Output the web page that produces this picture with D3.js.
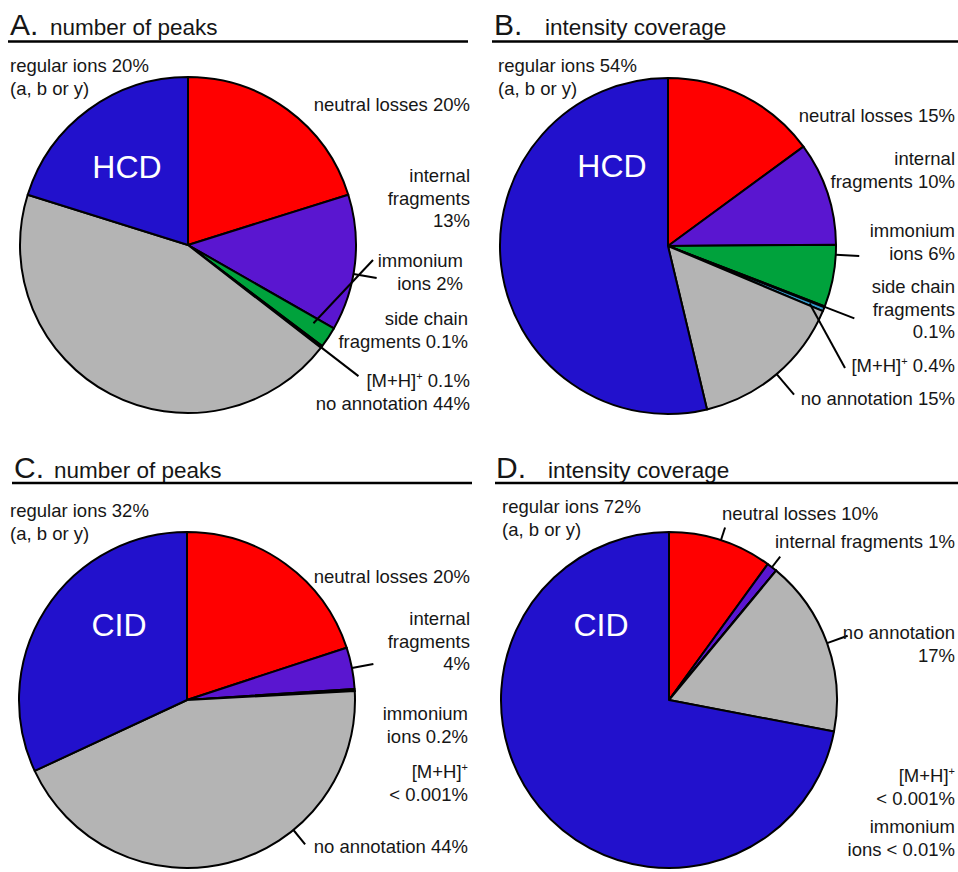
<!DOCTYPE html>
<html><head><meta charset="utf-8">
<script src="https://cdn.jsdelivr.net/npm/d3@7"></script>
<style>
body{margin:0;background:#fff}
svg{display:block}
text{font-family:"Liberation Sans",Arial,sans-serif;fill:#161616}
</style>
</head><body><svg id="chart" width="958" height="872"></svg>
<script>
// ---------- data ----------
const categories = ["neutral losses","internal fragments","immonium ions","side chain fragments","[M+H]+","no annotation","regular ions"];
const hcdPeaks     = [20, 13, 2, 0.1, 0.1, 44, 20];
const hcdIntensity = [15, 10, 6, 0.1, 0.4, 15, 54];
const cidPeaks     = [20, 4, 0.2, 0, 0.001, 44, 32];
const cidIntensity = [10, 1, 0.01, 0, 0.001, 17, 72];

const labelsA = [
  ["regular ions 20%","(a, b or y)"],["neutral losses 20%"],["internal","fragments","13%"],
  ["immonium","ions 2%"],["side chain","fragments 0.1%"],["[M+H]^+ 0.1%"],["no annotation 44%"]];
const labelsB = [
  ["regular ions 54%","(a, b or y)"],["neutral losses 15%"],["internal","fragments 10%"],
  ["immonium","ions 6%"],["side chain","fragments","0.1%"],["[M+H]^+  0.4%"],["no annotation 15%"]];
const labelsC = [
  ["regular ions 32%","(a, b or y)"],["neutral losses 20%"],["internal","fragments","4%"],
  ["immonium","ions 0.2%"],["[M+H]^+","< 0.001%"],["no annotation 44%"]];
const labelsD = [
  ["regular ions 72%","(a, b or y)"],["neutral losses 10%"],["internal fragments 1%"],
  ["no annotation","17%"],["[M+H]^+","< 0.001%"],["immonium","ions < 0.01%"]];

// ---------- styles / layout ----------
const colors = ["#ff0000","#5a16d0","#00a23c","#1f7f8f","#3399cc","#b4b4b4","#2211cc"];
const R = 168;

const panels = [
  {letter:"A.", title:"number of peaks", method:"HCD", values:hcdPeaks, labels:labelsA,
   cx:188, cy:245, letterX:10, titleX:50, baseY:35, ruleX0:8, ruleX1:468, ruleY:41.5, methodDx:-61, methodDy:-67,
   pos:[[10,72,"start"],[470,111,"end"],[470,182,"end"],[463,267,"end"],[468,325,"end"],[470,387,"end"],[470,410,"end"]],
   leaders:[{s:1,t:0.58,r0:1,r1:1.14},{s:2,t:0.3,r0:0.88,ex:185,ey:15},{s:4,t:0.5,r0:1,r1:1.28}]},
  {letter:"B.", title:"intensity coverage", method:"HCD", values:hcdIntensity, labels:labelsB,
   cx:668, cy:246, letterX:494, titleX:545, baseY:35, ruleX0:492, ruleX1:958, ruleY:41.5, methodDx:-56, methodDy:-69,
   pos:[[498,72,"start"],[955,122,"end"],[955,165,"end"],[955,237,"end"],[955,293,"end"],[955,372,"end"],[955,405,"end"]],
   leaders:[{s:2,t:0.16,r0:1,r1:1.14},{s:3,t:0.5,r0:1,r1:1.19},{s:4,t:0.5,r0:0.91,ex:177,ey:122},{s:5,t:0.5,r0:1,r1:1.16}]},
  {letter:"C.", title:"number of peaks", method:"CID", values:cidPeaks, labels:labelsC,
   cx:187, cy:700, letterX:14, titleX:54, baseY:478, ruleX0:12, ruleX1:472, ruleY:483, methodDx:-68, methodDy:-64,
   pos:[[10,517,"start"],[470,583,"end"],[470,625,"end"],[468,720,"end"],[468,778,"end"],[468,853,"end"]],
   leaders:[{s:1,t:0.5,r0:1,r1:1.13},{s:5,t:0.34,r0:1,r1:1.11}]},
  {letter:"D.", title:"intensity coverage", method:"CID", values:cidIntensity, labels:labelsD,
   cx:669, cy:700, letterX:496, titleX:548, baseY:478, ruleX0:495, ruleX1:958, ruleY:483, methodDx:-68, methodDy:-64,
   pos:[[502,513,"start"],[722,520,"start"],[775,548,"start"],[955,639,"end"],[955,782,"end"],[955,833,"end"]],
   leaders:[{s:0,t:0.5,r0:1,r1:1.08},{s:1,t:0.5,r0:1,r1:1.08},{s:5,t:0.5,r0:1,r1:1.13}]}
];

const svg = d3.select("#chart");
const pie = d3.pie().sort(null).value(d => d);
const arc = d3.arc().innerRadius(0).outerRadius(R);
const pt = (a, r) => [r * Math.sin(a), -r * Math.cos(a)];

function addLine(textSel, str) {
  const parts = str.split("^+");
  textSel.append("tspan").text(parts[0]);
  if (parts.length > 1) {
    textSel.append("tspan").attr("dy", -7).attr("font-size", "11px").text("+");
    textSel.append("tspan").attr("dy", 7).text(parts[1]);
  }
}

panels.forEach(p => {
  // titles
  svg.append("text").attr("x", p.letterX).attr("y", p.baseY).attr("font-size", "30px").text(p.letter);
  svg.append("text").attr("x", p.titleX).attr("y", p.baseY).attr("font-size", "22.5px").text(p.title);
  svg.append("line").attr("x1", p.ruleX0).attr("x2", p.ruleX1).attr("y1", p.ruleY).attr("y2", p.ruleY)
     .attr("stroke", "#000").attr("stroke-width", 2.5);

  const g = svg.append("g").attr("transform", `translate(${p.cx},${p.cy})`);
  const arcs = pie(p.values);
  g.selectAll("path.slice").data(arcs.filter(d => d.value > 0)).join("path")
    .attr("class", "slice")
    .attr("d", arc)
    .attr("fill", d => colors[d.index])
    .attr("stroke", "#000").attr("stroke-width", 2).attr("stroke-linejoin", "round");

  // leader lines
  p.leaders.forEach(l => {
    const d = arcs[l.s];
    const a = d.startAngle + l.t * (d.endAngle - d.startAngle);
    const s = pt(a, R * l.r0);
    const e = (l.ex !== undefined) ? [l.ex, l.ey] : pt(a, R * l.r1);
    g.append("line").attr("x1", s[0]).attr("y1", s[1]).attr("x2", e[0]).attr("y2", e[1])
      .attr("stroke", "#000").attr("stroke-width", 2);
  });

  // method label
  g.append("text").attr("x", p.methodDx).attr("y", p.methodDy).attr("text-anchor", "middle")
    .attr("font-size", "32px").style("fill", "#fff").text(p.method);

  // slice labels
  p.labels.forEach((lines, i) => {
    const [x, y, anchor] = p.pos[i];
    lines.forEach((ln, j) => {
      const t = svg.append("text").attr("x", x).attr("y", y + j * 22.5)
        .attr("text-anchor", anchor).attr("font-size", "18.5px");
      addLine(t, ln);
    });
  });
});
</script>
</body></html>
